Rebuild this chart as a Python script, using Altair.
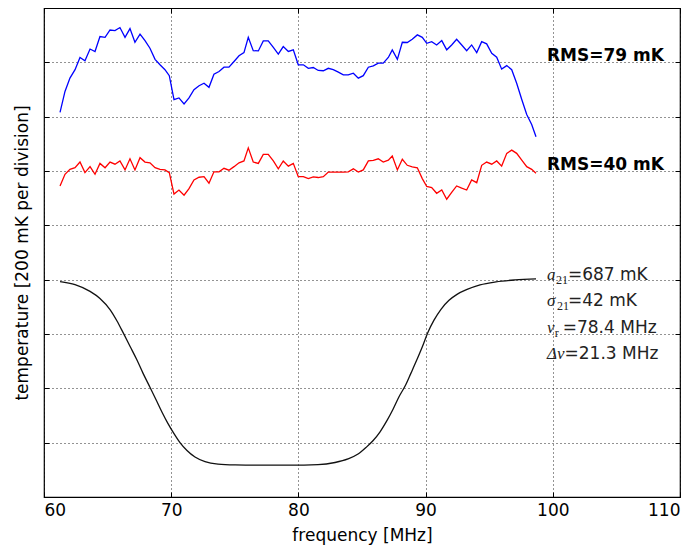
import altair as alt
import pandas as pd

# ---------------- data ----------------
freq = [61.26, 61.65, 62.04, 62.44, 62.83, 63.22, 63.62, 64.01, 64.40, 64.80,
        65.19, 65.58, 65.97, 66.37, 66.76, 67.15, 67.55, 67.94, 68.33, 68.73,
        69.12, 69.51, 69.85, 70.22, 70.61, 71.01, 71.40, 71.79, 72.19, 72.58,
        72.97, 73.36, 73.76, 74.15, 74.54, 74.94, 75.33, 75.72, 76.06, 76.45,
        76.85, 77.24, 77.63, 78.03, 78.42, 78.81, 79.21, 79.60, 79.99, 80.39,
        80.78, 81.17, 81.56, 81.96, 82.35, 82.74, 83.14, 83.53, 83.92, 84.32,
        84.71, 85.10, 85.50, 85.89, 86.28, 86.67, 87.07, 87.38, 87.78, 88.17,
        88.56, 88.95, 89.35, 89.74, 90.09, 90.48, 90.87, 91.27, 91.66, 92.05,
        92.44, 92.84, 93.23, 93.62, 94.02, 94.41, 94.80, 95.20, 95.59, 95.98,
        96.38, 96.77, 97.16, 97.56, 97.95, 98.34, 98.68]

# blue trace (mK on the plotted scale)
blue = [1416, 1493, 1542, 1573, 1618, 1606, 1649, 1640, 1695, 1692,
        1719, 1717, 1728, 1692, 1724, 1674, 1704, 1680, 1652, 1611,
        1591, 1573, 1551, 1463, 1469, 1447, 1469, 1499, 1514, 1523,
        1508, 1556, 1566, 1582, 1582, 1603, 1624, 1636, 1692, 1643,
        1642, 1679, 1679, 1655, 1630, 1658, 1640, 1646, 1591, 1591,
        1578, 1581, 1570, 1569, 1578, 1573, 1564, 1554, 1554, 1560,
        1542, 1551, 1582, 1587, 1597, 1597, 1618, 1646, 1611, 1674,
        1673, 1685, 1701, 1692, 1670, 1676, 1664, 1680, 1646, 1664,
        1685, 1664, 1643, 1664, 1636, 1676, 1668, 1633, 1619, 1575,
        1588, 1573, 1523, 1463, 1408, 1371, 1326]

# red trace (mK on the plotted scale)
red = [1145, 1188, 1206, 1212, 1233, 1194, 1216, 1188, 1228, 1212,
       1233, 1225, 1237, 1204, 1245, 1204, 1249, 1233, 1230, 1212,
       1206, 1204, 1194, 1115, 1130, 1111, 1135, 1167, 1177, 1179,
       1155, 1197, 1197, 1210, 1203, 1216, 1230, 1237, 1285, 1233,
       1228, 1261, 1261, 1237, 1208, 1237, 1218, 1228, 1179, 1179,
       1172, 1178, 1176, 1179, 1196, 1196, 1196, 1196, 1197, 1208,
       1196, 1204, 1237, 1239, 1245, 1233, 1240, 1255, 1204, 1243,
       1221, 1215, 1212, 1172, 1143, 1139, 1118, 1130, 1096, 1121,
       1145, 1137, 1130, 1167, 1157, 1221, 1233, 1225, 1237, 1218,
       1265, 1277, 1265, 1240, 1216, 1206, 1192]

# black absorption profile
model_freq = [61.26, 62.44, 63.62, 64.40, 65.19, 65.74, 66.23, 66.76, 67.29, 67.78,
              68.33, 68.81, 69.28, 69.75, 70.22, 70.69, 71.24, 71.87, 72.66, 73.68,
              75.02, 76.98, 79.34, 81.54, 82.88, 83.90, 84.69, 85.31, 85.86, 86.42,
              86.96, 87.44, 87.91, 88.44, 88.85, 89.32, 89.76, 90.16, 90.66, 91.21,
              91.84, 92.47, 93.26, 94.28, 95.53, 97.03, 98.68]
model_temp = [793, 782, 757, 731, 690, 648, 604, 555, 506, 456,
              404, 358, 312, 270, 233, 200, 171, 147, 130, 121,
              118, 117, 117, 119, 127, 140, 158, 182, 207, 240,
              281, 323, 369, 413, 456, 506, 555, 604, 651, 691,
              724, 746, 764, 781, 792, 799, 803]

x_ticks = [60, 70, 80, 90, 100, 110]
y_ticks = [200, 400, 600, 800, 1000, 1200, 1400, 1600]

rms_labels = ["RMS=79 mK", "RMS=40 mK"]
param_base = ["a", "σ", "ν", "Δν"]
param_sub = ["21", "21", "r", ""]
param_values = ["=687 mK", "=42 mK", "=78.4 MHz", "=21.3 MHz"]

# ---------------- chart ----------------
FONT = "DejaVu Sans"
W, H = 636, 489
xs = alt.Scale(domain=[60, 110], nice=False, zero=False)
ys = alt.Scale(domain=[0, 1800], nice=False, zero=False)

grid_kw = dict(grid=True, gridDash=[1, 3], gridColor="black", gridOpacity=0.85, gridWidth=1)
tick_kw = dict(tickSize=5, offset=-5, tickColor="black", tickWidth=1, domain=False)

x_bottom = alt.Axis(values=x_ticks, format="d", title="frequency [MHz]",
                    labelFontSize=17, titleFontSize=17, titleFontWeight="normal",
                    labelFont=FONT, titleFont=FONT, labelColor="black", titleColor="black",
                    labelPadding=5, titlePadding=9, **grid_kw, **tick_kw)
y_left = alt.Axis(values=y_ticks, labels=False, title="temperature [200 mK per division]",
                  titleFontSize=17, titleFontWeight="normal", titleFont=FONT,
                  titleColor="black", titlePadding=12, **grid_kw, **tick_kw)
x_top = alt.Axis(values=x_ticks, orient="top", labels=False, title=None, grid=False, **tick_kw)
y_right = alt.Axis(values=y_ticks, orient="right", labels=False, title=None, grid=False, **tick_kw)

df_blue = pd.DataFrame({"f": freq, "t": blue})
df_red = pd.DataFrame({"f": freq, "t": red})
df_model = pd.DataFrame({"f": model_freq, "t": model_temp})

blue_line = alt.Chart(df_blue).mark_line(color="#0000ff", strokeWidth=1.3).encode(
    x=alt.X("f:Q", scale=xs, axis=x_bottom),
    y=alt.Y("t:Q", scale=ys, axis=y_left),
)
red_line = alt.Chart(df_red).mark_line(color="#ff0000", strokeWidth=1.3).encode(
    x=alt.X("f:Q", scale=xs, axis=x_top),
    y=alt.Y("t:Q", scale=ys, axis=y_right),
)
black_line = alt.Chart(df_model).mark_line(color="#111111", strokeWidth=1.3,
                                           interpolate="monotone").encode(
    x=alt.X("f:Q", scale=xs, axis=None),
    y=alt.Y("t:Q", scale=ys, axis=None),
)

# annotation placement
df_rms = pd.DataFrame({"label": rms_labels, "f": [99.54, 99.54], "t": [1624, 1221]})
rms_text = alt.Chart(df_rms).mark_text(align="left", baseline="middle", font=FONT,
                                       fontSize=17, fontWeight="bold", color="black").encode(
    x=alt.X("f:Q", scale=xs, axis=None),
    y=alt.Y("t:Q", scale=ys, axis=None),
    text="label:N",
)

param_t = [819, 720, 623, 525]
df_base = pd.DataFrame({"label": param_base, "f": [99.54] * 4, "t": param_t})
df_sub = pd.DataFrame({"label": param_sub, "f": [100.26, 100.33, 100.15, 100.3], "t": param_t})
df_val = pd.DataFrame({"label": param_values, "f": [101.19, 101.19, 100.78, 100.92], "t": param_t})

base_text = alt.Chart(df_base).mark_text(align="left", baseline="middle", font="Liberation Serif",
                                         fontStyle="italic", fontSize=17, color="#222222").encode(
    x=alt.X("f:Q", scale=xs, axis=None),
    y=alt.Y("t:Q", scale=ys, axis=None),
    text="label:N",
)
sub_text = alt.Chart(df_sub).mark_text(align="left", baseline="middle", font="Liberation Serif",
                                       fontSize=12, dy=5, color="#222222").encode(
    x=alt.X("f:Q", scale=xs, axis=None),
    y=alt.Y("t:Q", scale=ys, axis=None),
    text="label:N",
)
val_text = alt.Chart(df_val).mark_text(align="left", baseline="middle", font=FONT,
                                       fontSize=17, color="#222222").encode(
    x=alt.X("f:Q", scale=xs, axis=None),
    y=alt.Y("t:Q", scale=ys, axis=None),
    text="label:N",
)

chart = (
    alt.layer(blue_line, red_line, black_line, rms_text, base_text, sub_text, val_text)
    .resolve_axis(x="independent", y="independent")
    .properties(width=W, height=H,
                autosize=alt.AutoSizeParams(type="none"),
                padding={"left": 36, "top": 0, "right": 10, "bottom": 52})
    .configure_view(stroke="black", strokeWidth=1.2)
)

chart.save("out.html", embed_options={"renderer": "svg", "actions": False})
